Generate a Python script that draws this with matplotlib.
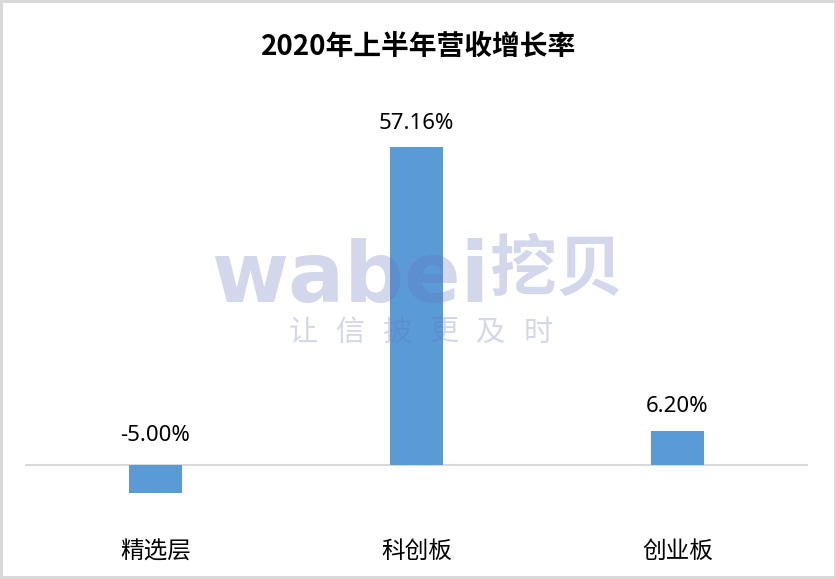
import matplotlib
matplotlib.use('Agg')
from matplotlib import pyplot as plt

plt.rcParams['font.family'] = ['Noto Sans CJK SC', 'DejaVu Sans']

# 2020年上半年营收增长率 (%)
categories = ['精选层', '科创板', '创业板']
growth = [-5.00, 57.16, 6.20]
labels = ['-5.00%', '57.16%', '6.20%']

fig = plt.figure(figsize=(8.37, 5.79), dpi=100)
fig.patch.set_edgecolor('#d9d9d9')
fig.patch.set_linewidth(3)

ax = fig.add_axes([0.0299, 0.0815, 0.9355, 0.740])
x = range(len(categories))
ax.bar(x, growth, width=0.2, color='#5b9bd5', zorder=2)
ax.axhline(0, color='#d9d9d9', linewidth=1.5, zorder=1)
ax.set_xlim(-0.5, 2.5)
ax.set_ylim(-12, 65)
ax.set_xticks(list(x))
ax.set_xticklabels(categories, fontsize=17)
ax.tick_params(axis='x', length=0, pad=6)
ax.set_yticks([])
for s in ax.spines.values():
    s.set_visible(False)

for i, v in enumerate(growth):
    off = 17 if v > 0 else 21
    ax.annotate(labels[i], (i, max(v, 0)), xytext=(0, off), textcoords='offset points',
                ha='center', va='center', fontsize=16, family=['Noto Sans', 'DejaVu Sans'])

fig.text(0.5, 1 - 47 / 579, '2020年上半年营收增长率', ha='center', va='center',
         fontsize=20, fontweight='bold')

# 水印
wm = dict(color='#6470be', alpha=0.28, zorder=10)
fig.text(211 / 837, 1 - 302 / 579, 'wabei', ha='left', va='baseline', fontsize=60,
         fontweight='bold', family=['DejaVu Sans'], **wm)
fig.text(557 / 837, 1 - 270 / 579, '挖贝', ha='center', va='center', fontsize=48,
         fontweight='bold', **wm)
for k, ch in enumerate('让信披更及时'):
    fig.text((303 + 47 * k) / 837, 1 - 333 / 579, ch, ha='center', va='center',
             fontsize=21, **wm)

fig.savefig('out.png', dpi=100, edgecolor=fig.get_edgecolor())
